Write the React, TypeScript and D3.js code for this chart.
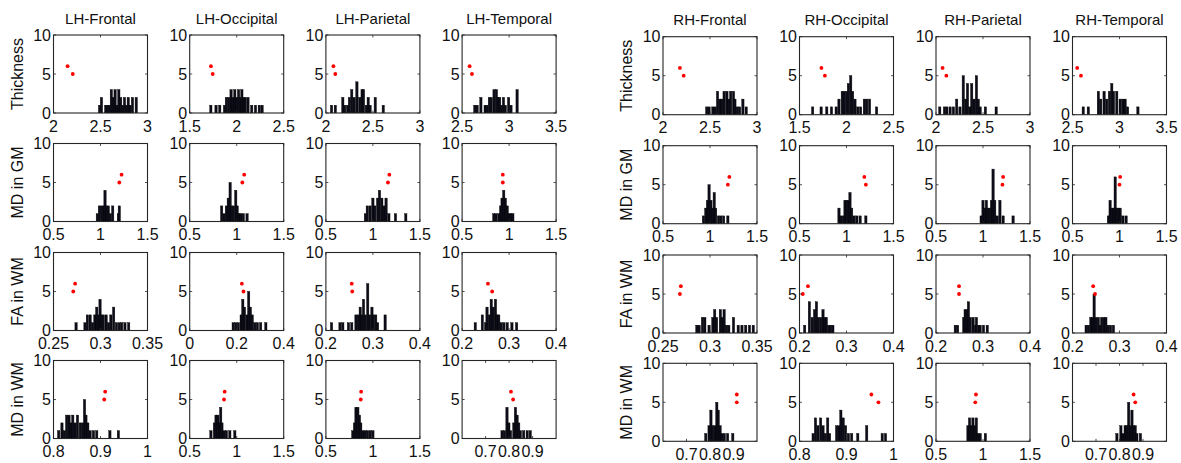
import React from "react";
import * as d3 from "d3";

type Bin = [number, number];

const regions = ["LH-Frontal", "LH-Occipital", "LH-Parietal", "LH-Temporal", "RH-Frontal", "RH-Occipital", "RH-Parietal", "RH-Temporal"];
const measures = ["Thickness", "MD in GM", "FA in WM", "MD in WM"];
const yTicks = [0, 5, 10];

// x domains per row (8 panels each)
const thicknessDomains = [[2, 3], [1.5, 2.5], [2, 3], [2.5, 3.5], [2, 3], [1.5, 2.5], [2, 3], [2.5, 3.5]];
const mdGmDomains = [[0.5, 1.5], [0.5, 1.5], [0.5, 1.5], [0.5, 1.5], [0.5, 1.5], [0.5, 1.5], [0.5, 1.5], [0.5, 1.5]];
const faWmDomains = [[0.25, 0.35], [0, 0.4], [0.2, 0.4], [0.2, 0.4], [0.25, 0.35], [0.2, 0.4], [0.2, 0.4], [0.2, 0.4]];
const mdWmDomains = [[0.8, 1], [0.5, 1.5], [0.5, 1.5], [0.6, 1.0], [0.6, 1.0], [0.8, 1], [0.5, 1.5], [0.6, 1.0]];

// x tick values per row
const thicknessTicks = [[2, 2.5, 3], [1.5, 2, 2.5], [2, 2.5, 3], [2.5, 3, 3.5], [2, 2.5, 3], [1.5, 2, 2.5], [2, 2.5, 3], [2.5, 3, 3.5]];
const mdGmTicks = [[0.5, 1, 1.5], [0.5, 1, 1.5], [0.5, 1, 1.5], [0.5, 1, 1.5], [0.5, 1, 1.5], [0.5, 1, 1.5], [0.5, 1, 1.5], [0.5, 1, 1.5]];
const faWmTicks = [[0.25, 0.3, 0.35], [0, 0.2, 0.4], [0.2, 0.3, 0.4], [0.2, 0.3, 0.4], [0.25, 0.3, 0.35], [0.2, 0.3, 0.4], [0.2, 0.3, 0.4], [0.2, 0.3, 0.4]];
const mdWmTicks = [[0.8, 0.9, 1], [0.5, 1, 1.5], [0.5, 1, 1.5], [0.7, 0.8, 0.9], [0.7, 0.8, 0.9], [0.8, 0.9, 1], [0.5, 1, 1.5], [0.7, 0.8, 0.9]];

// histograms: [value, count]
const thicknessHist: Bin[][] = [
  [[2.49, 1], [2.51, 2], [2.555, 1], [2.575, 1], [2.595, 1], [2.615, 3], [2.635, 2], [2.655, 3], [2.675, 1], [2.695, 3], [2.715, 2], [2.735, 1], [2.755, 2], [2.775, 1], [2.795, 2], [2.815, 1], [2.84, 2], [2.88, 2]],
  [[1.725, 1], [1.78, 1], [1.82, 1], [1.87, 1], [1.89, 2], [1.915, 2], [1.94, 3], [1.96, 2], [1.98, 3], [2.0, 2], [2.02, 3], [2.04, 2], [2.055, 3], [2.075, 2], [2.09, 2], [2.12, 2], [2.16, 1], [2.2, 1], [2.24, 1], [2.27, 1]],
  [[2.06, 1], [2.1, 1], [2.18, 2], [2.2, 1], [2.23, 1], [2.25, 2], [2.275, 3], [2.3, 2], [2.33, 4], [2.36, 2], [2.385, 3], [2.4, 3], [2.43, 1], [2.45, 2], [2.47, 1], [2.525, 2], [2.61, 1]],
  [[2.635, 1], [2.66, 1], [2.7, 2], [2.745, 1], [2.765, 1], [2.79, 2], [2.81, 2], [2.84, 3], [2.865, 3], [2.885, 2], [2.9, 2], [2.92, 1], [2.94, 2], [2.96, 1], [2.995, 2], [3.02, 1], [3.085, 3]],
  [[2.465, 1], [2.49, 1], [2.53, 1], [2.555, 1], [2.58, 3], [2.605, 2], [2.625, 2], [2.65, 3], [2.68, 3], [2.7, 2], [2.72, 3], [2.75, 3], [2.765, 2], [2.79, 1], [2.815, 1], [2.85, 2], [2.885, 1]],
  [[1.64, 1], [1.73, 1], [1.79, 1], [1.84, 1], [1.89, 1], [1.92, 2], [1.955, 3], [1.975, 3], [2.0, 3], [2.02, 4], [2.045, 5], [2.065, 3], [2.09, 2], [2.12, 1], [2.15, 1], [2.19, 2], [2.215, 2], [2.245, 2], [2.32, 1]],
  [[2.04, 1], [2.09, 1], [2.115, 1], [2.15, 1], [2.185, 1], [2.22, 2], [2.255, 1], [2.29, 5], [2.315, 2], [2.335, 4], [2.36, 1], [2.38, 4], [2.405, 2], [2.43, 5], [2.45, 2], [2.47, 1], [2.525, 1], [2.64, 1]],
  [[2.614, 1], [2.668, 1], [2.775, 3], [2.8, 2], [2.836, 3], [2.864, 2], [2.893, 3], [2.918, 4], [2.936, 3], [2.971, 3], [3.007, 2], [3.036, 2], [3.06, 2], [3.086, 1], [3.196, 1]],
];
const mdGmHist: Bin[][] = [
  [[0.966, 1], [0.988, 2], [1.01, 2], [1.03, 2], [1.048, 4], [1.065, 2], [1.083, 2], [1.105, 1], [1.13, 2], [1.19, 1], [1.2, 2]],
  [[0.84, 2], [0.865, 1], [0.89, 2], [0.91, 3], [0.93, 5], [0.945, 2], [0.965, 2], [0.99, 4], [1.005, 2], [1.025, 1], [1.045, 1], [1.07, 1], [1.11, 1]],
  [[0.92, 1], [0.94, 2], [0.97, 2], [1.0, 3], [1.02, 2], [1.05, 3], [1.07, 4], [1.095, 3], [1.12, 2], [1.14, 3], [1.17, 1], [1.24, 1], [1.35, 1]],
  [[0.837, 1], [0.86, 1], [0.89, 1], [0.91, 2], [0.925, 3], [0.943, 4], [0.96, 3], [0.98, 2], [1.0, 1], [1.02, 1], [1.04, 1]],
  [[0.93, 1], [0.955, 2], [0.973, 3], [0.99, 5], [1.01, 3], [1.027, 2], [1.045, 4], [1.06, 2], [1.09, 1], [1.115, 1], [1.145, 1], [1.19, 1]],
  [[0.92, 2], [0.94, 1], [0.966, 1], [0.984, 3], [1.0, 3], [1.02, 3], [1.037, 4], [1.055, 2], [1.08, 1], [1.11, 1], [1.145, 1], [1.206, 1]],
  [[0.98, 1], [1.0, 3], [1.02, 2], [1.036, 3], [1.05, 2], [1.07, 2], [1.09, 3], [1.107, 7], [1.125, 3], [1.15, 1], [1.18, 3], [1.214, 1], [1.32, 1]],
  [[0.882, 1], [0.9, 3], [0.918, 2], [0.936, 2], [0.954, 6], [0.97, 2], [0.99, 2], [1.007, 2], [1.036, 1], [1.07, 1]],
];
const faWmHist: Bin[][] = [
  [[0.274, 1], [0.2835, 1], [0.286, 2], [0.289, 2], [0.2915, 1], [0.294, 2], [0.296, 3], [0.298, 2], [0.2995, 4], [0.301, 2], [0.303, 2], [0.306, 2], [0.3085, 1], [0.311, 2], [0.314, 3], [0.317, 1], [0.32, 1], [0.3225, 1], [0.326, 1], [0.33, 1]],
  [[0.185, 1], [0.196, 1], [0.207, 1], [0.219, 2], [0.226, 4], [0.233, 3], [0.244, 2], [0.251, 5], [0.258, 3], [0.266, 2], [0.277, 1], [0.288, 1], [0.302, 1], [0.324, 1]],
  [[0.212, 1], [0.23, 1], [0.236, 1], [0.248, 1], [0.255, 1], [0.264, 2], [0.269, 2], [0.273, 3], [0.276, 2], [0.28, 4], [0.284, 2], [0.289, 6], [0.293, 2], [0.298, 3], [0.301, 2], [0.306, 2], [0.31, 1], [0.326, 2]],
  [[0.228, 1], [0.243, 2], [0.25, 1], [0.253, 3], [0.258, 2], [0.262, 4], [0.266, 3], [0.271, 4], [0.274, 2], [0.278, 2], [0.283, 1], [0.289, 1], [0.296, 1], [0.306, 1], [0.316, 1]],
  [[0.286, 1], [0.2885, 1], [0.292, 2], [0.2945, 2], [0.299, 1], [0.303, 2], [0.305, 3], [0.307, 2], [0.311, 3], [0.313, 2], [0.315, 3], [0.3175, 1], [0.32, 1], [0.325, 2], [0.33, 1], [0.334, 1], [0.338, 1], [0.342, 1], [0.346, 1]],
  [[0.211, 1], [0.221, 4], [0.227, 2], [0.232, 3], [0.236, 4], [0.24, 2], [0.245, 2], [0.25, 3], [0.254, 2], [0.257, 2], [0.262, 1], [0.266, 1], [0.271, 1]],
  [[0.241, 1], [0.246, 1], [0.259, 2], [0.262, 3], [0.266, 3], [0.269, 4], [0.273, 2], [0.279, 2], [0.284, 1], [0.286, 2], [0.291, 1], [0.294, 1], [0.301, 1], [0.309, 1]],
  [[0.229, 1], [0.234, 1], [0.239, 2], [0.243, 2], [0.246, 5], [0.25, 2], [0.255, 2], [0.259, 1], [0.262, 2], [0.267, 2], [0.271, 2], [0.276, 1], [0.281, 1], [0.287, 1]],
];
const mdWmHist: Bin[][] = [
  [[0.811, 1], [0.818, 2], [0.823, 1], [0.828, 3], [0.833, 3], [0.837, 2], [0.841, 3], [0.846, 2], [0.851, 3], [0.857, 2], [0.862, 2], [0.866, 5], [0.869, 3], [0.873, 2], [0.878, 1], [0.885, 1], [0.892, 1], [0.92, 1], [0.938, 1]],
  [[0.726, 1], [0.763, 2], [0.78, 3], [0.8, 3], [0.818, 2], [0.83, 4], [0.843, 2], [0.865, 1], [0.89, 1], [0.927, 1], [0.98, 1]],
  [[0.786, 1], [0.804, 2], [0.82, 4], [0.84, 4], [0.857, 3], [0.871, 2], [0.893, 1], [0.918, 1], [0.943, 1], [0.971, 1], [1.0, 1]],
  [[0.77, 1], [0.78, 1], [0.791, 4], [0.799, 2], [0.806, 1], [0.82, 2], [0.827, 4], [0.834, 3], [0.841, 2], [0.848, 1], [0.862, 1], [0.877, 1], [0.89, 1]],
  [[0.782, 1], [0.796, 2], [0.804, 4], [0.811, 2], [0.821, 2], [0.829, 5], [0.835, 4], [0.843, 2], [0.851, 1], [0.861, 1], [0.875, 1], [0.897, 1]],
  [[0.829, 1], [0.834, 3], [0.839, 2], [0.845, 3], [0.85, 2], [0.855, 1], [0.86, 3], [0.864, 1], [0.879, 2], [0.884, 2], [0.888, 4], [0.893, 3], [0.898, 2], [0.904, 1], [0.911, 1], [0.924, 1], [0.943, 2], [0.976, 1], [0.983, 1]],
  [[0.84, 2], [0.857, 3], [0.875, 2], [0.893, 3], [0.91, 2], [0.929, 3], [0.946, 1], [0.97, 1], [1.025, 1]],
  [[0.789, 1], [0.806, 2], [0.815, 1], [0.824, 2], [0.831, 2], [0.839, 5], [0.846, 2], [0.853, 4], [0.86, 2], [0.867, 2], [0.874, 1], [0.889, 1]],
];

// red points: [x at y=6, x at y=5]
const thicknessRed = [[2.15, 2.205], [1.726, 1.745], [2.08, 2.1], [2.58, 2.605], [2.18, 2.22], [1.733, 1.77], [2.07, 2.11], [2.55, 2.59]];
const mdGmRed = [[1.224, 1.2], [1.08, 1.06], [1.175, 1.16], [0.933, 0.933], [1.206, 1.19], [1.19, 1.206], [1.214, 1.207], [1.007, 1.0]];
const faWmRed = [[0.273, 0.271], [0.222, 0.229], [0.255, 0.256], [0.255, 0.264], [0.269, 0.268], [0.218, 0.207], [0.249, 0.249], [0.244, 0.248]];
const mdWmRed = [[0.91, 0.908], [0.872, 0.865], [0.875, 0.871], [0.808, 0.817], [0.914, 0.914], [0.953, 0.968], [0.925, 0.918], [0.86, 0.867]];
const redYs = [6, 5];

const rowDomains = [thicknessDomains, mdGmDomains, faWmDomains, mdWmDomains];
const rowTicks = [thicknessTicks, mdGmTicks, faWmTicks, mdWmTicks];
const rowHists = [thicknessHist, mdGmHist, faWmHist, mdWmHist];
const rowReds = [thicknessRed, mdGmRed, faWmRed, mdWmRed];

// layout
const W = 1181, H = 463;
const PW = 94, PH = 78;
const colLefts = [53.5, 189.7, 325.9, 462.1, 663, 799.5, 936, 1072.5];
const rowTopsL = [35, 143.5, 252.5, 360.5];
const rowTopsR = [36.7, 145.7, 255, 363.3];
const FONT = "'Liberation Sans', Arial, Helvetica, sans-serif";
const TICK_FS = 16;
const LABEL_FS = 15;
const YLABEL_FS = 16;
const BAR_W = 2.3;
const INK = "#111";

function fmt(v: number) {
  return String(+v.toFixed(4));
}

function Panel({ r, c }: { r: number; c: number }) {
  const left = colLefts[c];
  const top = c < 4 ? rowTopsL[r] : rowTopsR[r];
  const x = d3.scaleLinear().domain(rowDomains[r][c]).range([left, left + PW]);
  const y = d3.scaleLinear().domain([0, 10]).range([top + PH, top]);
  const hist = rowHists[r][c];
  const reds = rowReds[r][c];
  const ticks = rowTicks[r][c];
  const clipId = `clip-${r}-${c}`;
  const tl = 2.5;
  return (
    <g>
      <defs>
        <clipPath id={clipId}>
          <rect x={left} y={top} width={PW} height={PH} />
        </clipPath>
      </defs>
      <rect x={left} y={top} width={PW} height={PH} fill="#fff" />
      <g clipPath={`url(#${clipId})`}>
        {hist.map(([v, n], i) => (
          <rect key={i} x={x(v) - BAR_W / 2} y={y(n)} width={BAR_W} height={y(0) - y(n)} fill="#0d0d1a" stroke="#000" strokeWidth={0.4} />
        ))}
      </g>
      {reds.map((v, i) => (
        <circle key={i} cx={x(v)} cy={y(redYs[i])} r={1.9} fill="#ff0000" />
      ))}
      <rect x={left} y={top} width={PW} height={PH} fill="none" stroke="#262626" strokeWidth={1.1} />
      {ticks.map((t, i) => (
        <g key={"xt" + i}>
          <line x1={x(t)} x2={x(t)} y1={top + PH} y2={top + PH - tl} stroke="#262626" strokeWidth={0.8} />
          <line x1={x(t)} x2={x(t)} y1={top} y2={top + tl} stroke="#262626" strokeWidth={0.8} />
          <text x={x(t)} y={top + PH + 18.5} textAnchor="middle" fontSize={TICK_FS} fontFamily={FONT} fill={INK}>
            {fmt(t)}
          </text>
        </g>
      ))}
      {yTicks.map((t, i) => (
        <g key={"yt" + i}>
          <line x1={left} x2={left + tl} y1={y(t)} y2={y(t)} stroke="#262626" strokeWidth={0.8} />
          <line x1={left + PW} x2={left + PW - tl} y1={y(t)} y2={y(t)} stroke="#262626" strokeWidth={0.8} />
          <text x={left - 2.5} y={y(t) + 5.5} textAnchor="end" fontSize={TICK_FS} fontFamily={FONT} fill={INK}>
            {t}
          </text>
        </g>
      ))}
      {r === 0 && (
        <text x={left + PW / 2} y={top - 11.5} textAnchor="middle" fontSize={LABEL_FS} fontFamily={FONT} fill={INK}>
          {regions[c]}
        </text>
      )}
      {(c === 0 || c === 4) && (
        <text
          transform={`translate(${left - 31},${top + PH / 2}) rotate(-90)`}
          textAnchor="middle"
          fontSize={YLABEL_FS}
          fontFamily={FONT}
          fill={INK}
        >
          {measures[r]}
        </text>
      )}
    </g>
  );
}

export default function App() {
  const cells: [number, number][] = [];
  for (let r = 0; r < 4; r++) for (let c = 0; c < 8; c++) cells.push([r, c]);
  return (
    <svg width={W} height={H} viewBox={`0 0 ${W} ${H}`} style={{ position: "absolute", left: 0, top: 0, background: "#fff" }}>
      <rect x={0} y={0} width={W} height={H} fill="#fff" />
      {cells.map(([r, c]) => (
        <Panel key={`${r}-${c}`} r={r} c={c} />
      ))}
    </svg>
  );
}
